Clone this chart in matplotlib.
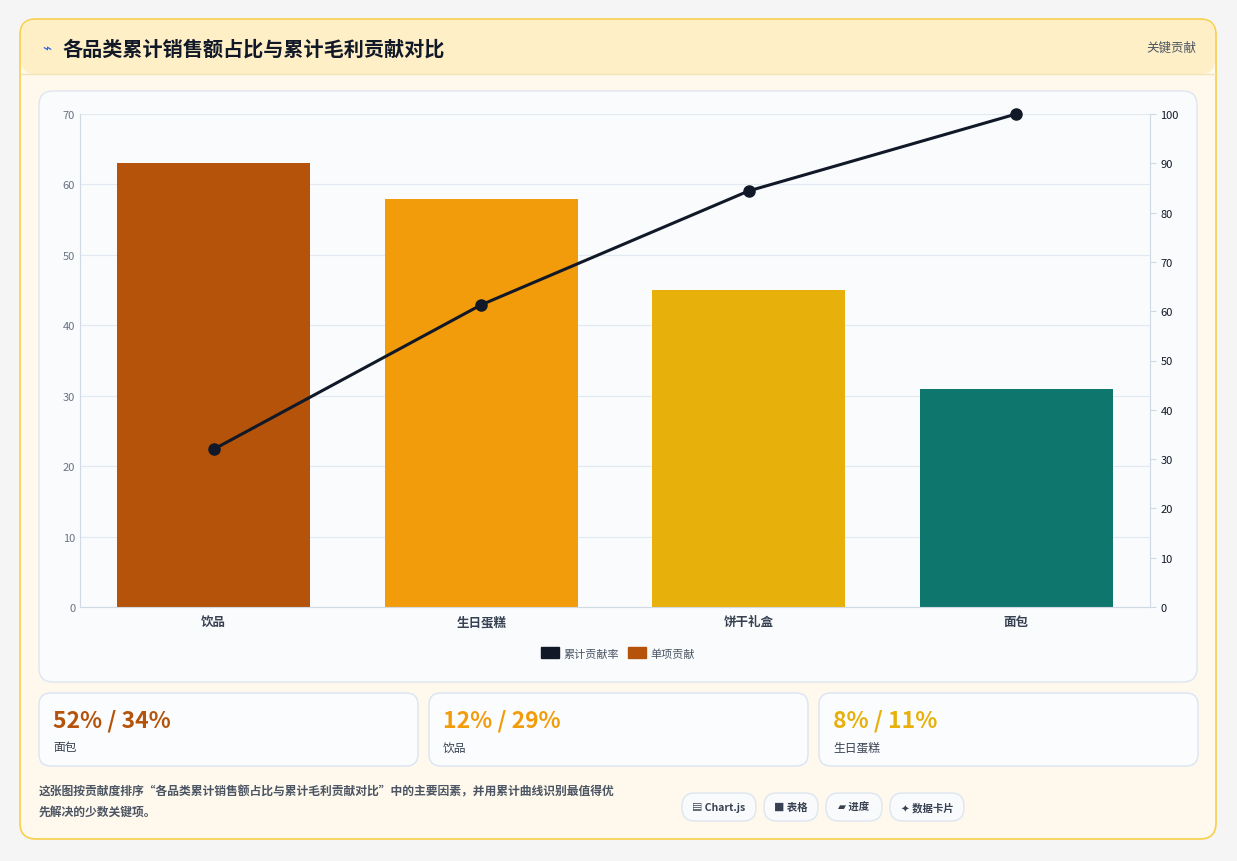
import matplotlib
matplotlib.use("Agg")
import matplotlib.pyplot as plt
from matplotlib.patches import FancyBboxPatch
import numpy as np

plt.rcParams['font.family'] = ['Noto Sans CJK SC', 'DejaVu Sans']

categories = ["饮品", "生日蛋糕", "饼干礼盒", "面包"]
single = [63, 58, 45, 31]
cumulative = [32, 61.3, 84.4, 100]
bar_colors = ["#b45309", "#f39c0b", "#e8b00a", "#0f766e"]
card_values = ["52% / 34%", "12% / 29%", "8% / 11%"]
card_labels = ["面包", "饮品", "生日蛋糕"]
card_colors = ["#b45309", "#f39c0b", "#e8b00a"]
chips = ["▤ Chart.js", "■ 表格", "▰ 进度", "✦ 数据卡片"]

W, H = 1237, 862
fig = plt.figure(figsize=(W/100, H/100), dpi=100)
fig.patch.set_facecolor("#f5f5f5")
bg = fig.add_axes([0, 0, 1, 1])
bg.set_xlim(0, W); bg.set_ylim(H, 0); bg.axis("off")

def box(x, y, w, h, fc, ec, r=12, lw=1, z=1):
    bg.add_patch(FancyBboxPatch((x, y), w, h, boxstyle=f"round,pad=0,rounding_size={r}",
                                fc=fc, ec=ec, lw=lw, zorder=z))

box(20, 20, 1196, 820, "#fff8ec", "#f7cf4a", r=16, lw=1.2)
box(21, 21, 1194, 54, "#ffefc6", "none", r=14, z=1.5)
bg.plot([21, 1215], [75, 75], color="#f3e3b8", lw=1, zorder=2)
bg.text(42, 49, "⌁", color="#2563eb", fontsize=11, va="center", zorder=3, family=['DejaVu Sans'])
bg.text(62, 49, "各品类累计销售额占比与累计毛利贡献对比", fontsize=14.5, fontweight="bold",
        color="#111827", va="center", zorder=3)
bg.text(1196, 48, "关键贡献", fontsize=9, color="#4b5563", va="center", ha="right", zorder=3)

box(39, 92, 1158, 591, "#f9fbfd", "#dde6f0", r=14, z=2)

for i in range(3):
    x = 39 + i*390
    box(x, 694, 379, 73, "#fbfcfe", "#d9e5f3", r=12, z=2)
    bg.text(x+14, 721, card_values[i], fontsize=16.5, fontweight="bold", color=card_colors[i], va="center", zorder=3)
    bg.text(x+14, 748, card_labels[i], fontsize=8.5, color="#374151", va="center", zorder=3)

bg.text(39, 792, "这张图按贡献度排序“各品类累计销售额占比与累计毛利贡献对比”中的主要因素，并用累计曲线识别最值得优",
        fontsize=8.5, color="#4b5563", va="center", zorder=3, fontweight="bold")
bg.text(39, 812, "先解决的少数关键项。", fontsize=8.5, color="#4b5563", va="center", zorder=3, fontweight="bold")
cx = [682, 764, 826, 890]
cw = [74, 54, 56, 74]
for x, w, t in zip(cx, cw, chips):
    box(x, 794, w, 28, "#f8fafc", "#dde6f0", r=13, z=2)
    bg.text(x+w/2, 808, t, fontsize=7.5, fontweight="bold", color="#374151", ha="center", va="center", zorder=3,
            family=['Noto Sans CJK SC', 'DejaVu Sans'])

# main plot: x 80..1150, y 115..608
ax = fig.add_axes([80/W, 1-608/H, 1070/W, 493/H])
ax.set_facecolor("none")
xs = np.arange(len(categories))
ax.bar(xs, single, width=0.72, color=bar_colors, zorder=2)
ax.set_ylim(0, 70)
ax.set_xlim(-0.5, 3.5)
ax.set_yticks(range(0, 71, 10))
ax.grid(axis="y", color="#e3e9f1", lw=0.8, zorder=0)
ax.set_xticks(xs)
ax.set_xticklabels(categories, fontsize=9, fontweight="bold", color="#374151")
ax.tick_params(axis="y", labelsize=8, colors="#6b7280", length=0)
ax.tick_params(axis="x", length=0, pad=6)
for s in ["top", "right"]:
    ax.spines[s].set_visible(False)
ax.spines["left"].set_color("#d1d9e3")
ax.spines["bottom"].set_color("#d1d9e3")

ax2 = ax.twinx()
ax2.plot(xs, cumulative, color="#111827", lw=2.2, marker="o", ms=8, zorder=3, clip_on=False)
ax2.set_ylim(0, 100)
ax2.set_yticks(range(0, 101, 10))
ax2.tick_params(axis="y", labelsize=8, colors="#111827", length=4, color="#d1d9e3")
for s in ["top", "left", "bottom"]:
    ax2.spines[s].set_visible(False)
ax2.spines["right"].set_color("#d1d9e3")

from matplotlib.patches import Patch
leg = fig.legend(handles=[Patch(color="#111827", label="累计贡献率"), Patch(color="#b45309", label="单项贡献")],
                 loc="center", bbox_to_anchor=(618/W, 1-654/H), ncol=2, frameon=False, fontsize=8,
                 handlelength=1.6, handleheight=1.1, columnspacing=0.8, handletextpad=0.4)
for t in leg.get_texts():
    t.set_color("#4b5563")

fig.savefig("out.png", dpi=100, facecolor=fig.get_facecolor())
